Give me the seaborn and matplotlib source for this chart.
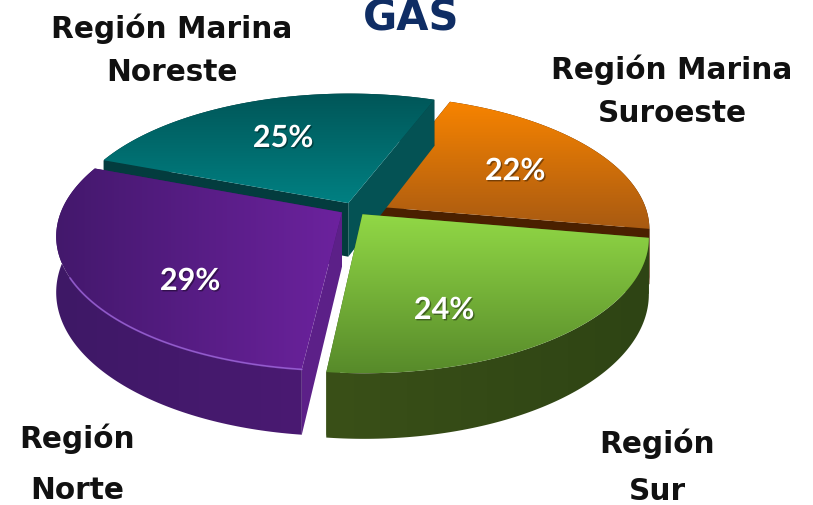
import numpy as np
import matplotlib
matplotlib.use("Agg")
import matplotlib.pyplot as plt
import matplotlib.patheffects as pe
from matplotlib.colors import LinearSegmentedColormap
from matplotlib.patches import Polygon
import seaborn as sns

regions = ["Región Marina\nSuroeste", "Región Marina\nNoreste", "Región\nNorte", "Región\nSur"]
shares = [22, 25, 29, 24]
top_colors = [("#f88400", "#a85a12"), ("#005658", "#008082"), ("#43186c", "#6c229e"), ("#92d946", "#578a2a")]
side_colors = [("#4a2000", "#4a2000"), ("#0a3a3c", "#0a3a3c"), ("#3e1866", "#4a1a72"), ("#3a5018", "#2e4414")]
start_wall_colors = ["#4a2000", "#045254", "#3e1866", "#3c5a1c"]
end_wall_colors = ["#4a2000", "#033c3e", "#5c2088", "#3c5a1c"]

sns.set_theme(style="white")
plt.rcParams["font.family"] = ["DejaVu Sans"]

# px positions of the projected pie
CX, CY, RX, RY, PERSP, DEPTH = 354, 210, 280, 130, 0.17, 54
pct_pos = [(515, 172), (283, 139), (190, 282), (444, 311)]
label_pos = [(672, 91), (172, 50), (77, 464), (657, 467)]
label_spacing = [1.6, 1.62, 1.97, 1.77]


def project(x, y, drop=0.0):
    s = 1 / (1 + PERSP * y)
    return np.column_stack([CX + RX * x * s, CY - RY * y * s + drop * DEPTH * s])


def fill_gradient(ax, verts, c0, c1, vertical=False, zorder=1):
    xs, ys = verts[:, 0], verts[:, 1]
    grad = np.linspace(0, 1, 256)
    grad = grad[:, None] if vertical else grad[None, :]
    cmap = LinearSegmentedColormap.from_list("g", [c0, c1])
    im = ax.imshow(grad, cmap=cmap, aspect="auto", zorder=zorder,
                   extent=[xs.min(), xs.max(), ys.max(), ys.min()])
    im.set_clip_path(Polygon(verts, closed=True, transform=ax.transData))


fig, ax = plt.subplots(figsize=(8.13, 5.06), dpi=100)
ax.set_position([0, 0, 1, 1])

# hidden pie gives the wedge angles and the exploded centres
geo = fig.add_axes([0, 0, 0.1, 0.1])
wedges, _ = geo.pie(shares, startangle=-10, counterclock=True, explode=[0.05] * 4)
geo.set_visible(False)

for i, w in enumerate(wedges):
    t = np.radians(np.linspace(w.theta1, w.theta2, 120))
    cx, cy = w.center
    ax_, ay_ = cx + np.cos(t), cy + np.sin(t)
    arc_top = project(ax_, ay_)
    arc_bot = project(ax_, ay_, 1)
    apex_top = project(np.array([cx]), np.array([cy]))
    apex_bot = project(np.array([cx]), np.array([cy]), 1)

    # back wedges: rim under the walls, front wedges: rim over them
    rim_z = i * 3 if i < 2 else i * 3 + 2
    rim = np.vstack([arc_top, arc_bot[::-1]])
    fill_gradient(ax, rim, side_colors[i][0], side_colors[i][1], zorder=rim_z)
    for end, col in ((0, start_wall_colors[i]), (-1, end_wall_colors[i])):
        wall = np.vstack([apex_top, arc_top[end], arc_bot[end], apex_bot])
        ax.add_patch(Polygon(wall, closed=True, fc=col, ec="none", zorder=i * 3 + 1))
    top = np.vstack([apex_top, arc_top])
    fill_gradient(ax, top, top_colors[i][0], top_colors[i][1], vertical=i != 2, zorder=i * 3 + 3)

    ax.text(pct_pos[i][0], pct_pos[i][1], f"{shares[i]}%", color="white", fontsize=22, fontweight="bold",
            family="Lato", ha="center", va="center", zorder=30,
            path_effects=[pe.withSimplePatchShadow(offset=(1, -1), shadow_rgbFace="black", alpha=0.4)])

    # light edge where the purple top meets its rim
    if i == 2:
        ax.plot(arc_top[55:, 0], arc_top[55:, 1], color="#9a60d8", lw=1.3, alpha=0.8, zorder=i * 3 + 3)

for name, (x, y), sp in zip(regions, label_pos, label_spacing):
    ax.text(x, y, name, color="#111111", fontsize=21.3, fontweight="bold", ha="center", va="center",
            linespacing=sp, zorder=30)
ax.text(411, 30, "GAS", color="#0f2d64", fontsize=30, fontweight="bold", ha="center", va="baseline", zorder=30)

ax.set_xlim(0, 813)
ax.set_ylim(506, 0)
ax.axis("off")
fig.savefig("out.png", dpi=100, facecolor="white")
